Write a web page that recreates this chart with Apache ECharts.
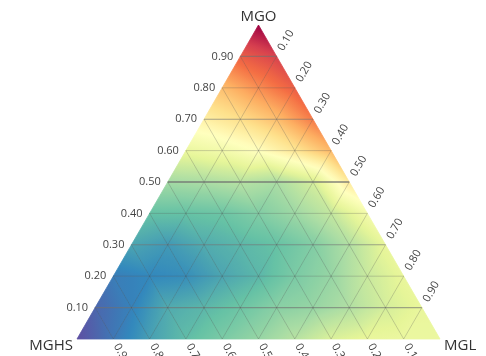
<!DOCTYPE html>
<html>
<head>
<meta charset="utf-8">
<script src="https://cdn.jsdelivr.net/npm/echarts@6/dist/echarts.min.js"></script>
<style>html,body{margin:0;padding:0;background:#fff}#c{width:486px;height:356px}</style>
</head>
<body>
<div id="c"></div>
<script>
// ---- data ----
const cornerNames = ['MGO', 'MGHS', 'MGL'];          // top, bottom-left, bottom-right
const tickValues = [0.1, 0.2, 0.3, 0.4, 0.5, 0.6, 0.7, 0.8, 0.9];
const tickLabels = ['0.10', '0.20', '0.30', '0.40', '0.50', '0.60', '0.70', '0.80', '0.90'];
// field values on the 0.1 lattice; one array per MGO level, entries by MGL fraction 0, 0.1, ...
const fieldMgo00 = [0.00, 0.07, 0.14, 0.19, 0.23, 0.27, 0.32, 0.38, 0.41, 0.42, 0.42];
const fieldMgo01 = [0.04, 0.09, 0.16, 0.18, 0.21, 0.25, 0.27, 0.31, 0.37, 0.41];
const fieldMgo02 = [0.08, 0.10, 0.11, 0.15, 0.18, 0.23, 0.27, 0.35, 0.41];
const fieldMgo03 = [0.15, 0.13, 0.16, 0.18, 0.20, 0.24, 0.31, 0.41];
const fieldMgo04 = [0.20, 0.20, 0.21, 0.24, 0.28, 0.34, 0.45];
const fieldMgo05 = [0.29, 0.30, 0.32, 0.30, 0.37, 0.57];
const fieldMgo06 = [0.42, 0.45, 0.50, 0.58, 0.68];
const fieldMgo07 = [0.55, 0.60, 0.67, 0.78];
const fieldMgo08 = [0.67, 0.75, 0.83];
const fieldMgo09 = [0.83, 0.89];
const fieldMgo10 = [1.00];
const fieldRows = [fieldMgo00, fieldMgo01, fieldMgo02, fieldMgo03, fieldMgo04, fieldMgo05,
                   fieldMgo06, fieldMgo07, fieldMgo08, fieldMgo09, fieldMgo10];

// ---- style ----
const cmapStops = ['#5e4fa2', '#3288bd', '#66c2a5', '#abdda4', '#e6f598', '#ffffbf',
                   '#fee08b', '#fdae61', '#f46d43', '#d53e4f', '#9e0142'];
const FONT = '"Open Sans", "DejaVu Sans", sans-serif';

function hex2rgb(h) { return [parseInt(h.substr(1, 2), 16), parseInt(h.substr(3, 2), 16), parseInt(h.substr(5, 2), 16)]; }
const cmapRgb = cmapStops.map(hex2rgb);
function cmap(v) {
  v = Math.max(0, Math.min(1, v));
  const n = cmapRgb.length - 1;
  const f = v * n, i = Math.min(n - 1, Math.floor(f)), t = f - i;
  const a = cmapRgb[i], b = cmapRgb[i + 1];
  return 'rgb(' + [0, 1, 2].map(k => Math.round(a[k] + (b[k] - a[k]) * t)).join(',') + ')';
}
// ternary (MGO=a, MGL=b) -> cartesian data coords
function tern(a, b) { return [b + a / 2, a]; }

// triangles of the lattice
const N = fieldRows.length - 1;
const triData = [];
for (let i = 0; i < N; i++) {
  for (let j = 0; i + j < N; j++) {
    triData.push([i, j, 1]);
    if (i + j < N - 1) triData.push([i, j, 0]);
  }
}

function triFill(P, V) {
  const p0 = P[0], p1 = P[1], p2 = P[2];
  const e1x = p1[0] - p0[0], e1y = p1[1] - p0[1], e2x = p2[0] - p0[0], e2y = p2[1] - p0[1];
  const d1 = V[1] - V[0], d2 = V[2] - V[0];
  const det = e1x * e2y - e1y * e2x;
  const gx = (d1 * e2y - d2 * e1y) / det, gy = (e1x * d2 - e2x * d1) / det;
  const g2 = gx * gx + gy * gy;
  const vmin = Math.min(V[0], V[1], V[2]), vmax = Math.max(V[0], V[1], V[2]);
  if (vmax - vmin < 1e-6 || g2 < 1e-12) return cmap(V[0]);
  const sx = p0[0] + gx * (vmin - V[0]) / g2, sy = p0[1] + gy * (vmin - V[0]) / g2;
  const ex = p0[0] + gx * (vmax - V[0]) / g2, ey = p0[1] + gy * (vmax - V[0]) / g2;
  const stops = [];
  for (let k = 0; k <= 10; k++) { const t = k / 10; stops.push({ offset: t, color: cmap(vmin + t * (vmax - vmin)) }); }
  return new echarts.graphic.LinearGradient(sx, sy, ex, ey, stops, true);
}

const chart = echarts.init(document.getElementById('c'), null, { renderer: 'canvas' });

const gridData = [];
tickValues.forEach(t => { gridData.push([t, 0]); gridData.push([t, 1]); gridData.push([t, 2]); });
const tickData = [];
tickValues.forEach((t, k) => { tickData.push([t, 0, k]); tickData.push([t, 1, k]); tickData.push([t, 2, k]); });

const option = {
  animation: false,
  backgroundColor: '#fff',
  grid: { left: 77, top: 25, width: 363, height: 314, show: false },
  xAxis: { type: 'value', min: 0, max: 1, show: false },
  yAxis: { type: 'value', min: 0, max: 1, show: false },
  series: [
    {
      type: 'custom', z: 1, silent: true,
      data: triData,
      renderItem: function (params, api) {
        const i = api.value(0), j = api.value(1), up = api.value(2);
        let nodes;
        if (up) nodes = [[i, j], [i, j + 1], [i + 1, j]];
        else nodes = [[i, j + 1], [i + 1, j + 1], [i + 1, j]];
        const P = nodes.map(n => api.coord(tern(n[0] / N, n[1] / N)));
        const V = nodes.map(n => fieldRows[n[0]][n[1]]);
        const fill = triFill(P, V);
        return { type: 'polygon', shape: { points: P }, style: { fill: fill, stroke: fill, lineWidth: 0.8 } };
      }
    },
    {
      type: 'custom', z: 2, silent: true,
      data: gridData,
      renderItem: function (params, api) {
        const t = api.value(0), fam = api.value(1);
        let A, B, stroke = 'rgba(70,70,70,0.35)', lw = 0.7;
        if (fam === 0) { // MGO = t (horizontal)
          A = tern(t, 0); B = tern(t, 1 - t);
          const odd = Math.round(t * 10) % 2 === 1;
          if (Math.abs(t - 0.5) < 1e-6) { stroke = 'rgba(110,110,110,0.85)'; lw = 1.6; }
          else if (odd) { stroke = 'rgba(110,110,110,0.6)'; lw = 1.1; }
        } else if (fam === 1) { // MGL = t
          A = tern(0, t); B = tern(1 - t, t);
        } else { // MGHS = t
          A = tern(0, 1 - t); B = tern(1 - t, 0);
        }
        const pa = api.coord(A), pb = api.coord(B);
        return { type: 'line', shape: { x1: pa[0], y1: pa[1], x2: pb[0], y2: pb[1] }, style: { stroke: stroke, lineWidth: lw } };
      }
    },
    {
      type: 'custom', z: 3, silent: true,
      data: tickData,
      renderItem: function (params, api) {
        const t = api.value(0), fam = api.value(1), k = api.value(2);
        const text = tickLabels[k];
        const st = { text: text, fill: '#444', fontSize: 11, fontFamily: FONT, verticalAlign: 'middle' };
        let p;
        if (fam === 0) { // MGO on left edge
          p = api.coord(tern(t, 0));
          return { type: 'text', x: p[0] - 7, y: p[1], style: Object.assign(st, { align: 'right' }) };
        } else if (fam === 1) { // MGL on right edge
          p = api.coord(tern(1 - t, t));
          return { type: 'text', x: p[0] + 4, y: p[1] - 6.5, rotation: Math.PI / 3, style: Object.assign(st, { align: 'left' }) };
        } else { // MGHS on bottom edge
          p = api.coord(tern(0, 1 - t));
          return { type: 'text', x: p[0] + 3, y: p[1] + 5.5, rotation: -Math.PI / 3, style: Object.assign(st, { align: 'left' }) };
        }
      }
    },
    {
      type: 'custom', z: 4, silent: true,
      data: [[0], [1], [2]],
      renderItem: function (params, api) {
        const c = api.value(0);
        const st = { text: cornerNames[c], fill: '#333', fontSize: 15, fontFamily: FONT };
        let p;
        if (c === 0) { p = api.coord(tern(1, 0)); return { type: 'text', x: p[0], y: p[1] - 1, style: Object.assign(st, { align: 'center', verticalAlign: 'bottom' }) }; }
        if (c === 1) { p = api.coord(tern(0, 0)); return { type: 'text', x: p[0] - 4, y: p[1] + 7, style: Object.assign(st, { align: 'right', verticalAlign: 'middle' }) }; }
        p = api.coord(tern(0, 1)); return { type: 'text', x: p[0] + 4, y: p[1] + 7, style: Object.assign(st, { align: 'left', verticalAlign: 'middle' }) };
      }
    }
  ]
};
chart.setOption(option);
</script>
</body>
</html>
